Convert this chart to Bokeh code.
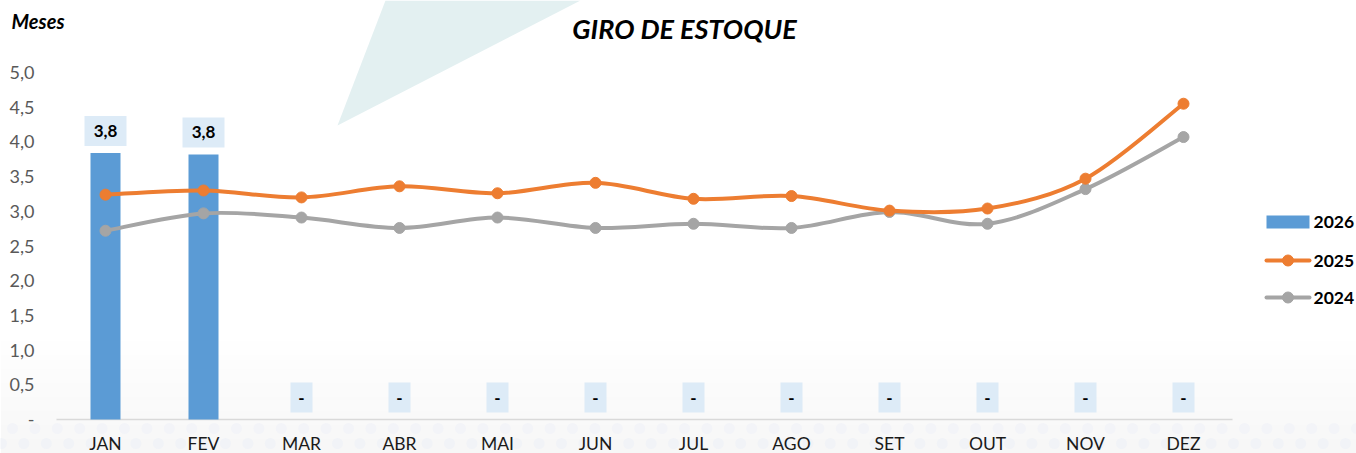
from bokeh.plotting import figure
from bokeh.models import Range1d, ColumnDataSource
from bokeh.core.properties import value
from bokeh.embed import file_html
from bokeh.resources import INLINE

# ---------------- data ----------------
months = ["JAN", "FEV", "MAR", "ABR", "MAI", "JUN", "JUL", "AGO", "SET", "OUT", "NOV", "DEZ"]
s2026 = [3.84, 3.82, None, None, None, None, None, None, None, None, None, None]
s2025 = [3.24, 3.30, 3.20, 3.36, 3.26, 3.41, 3.18, 3.22, 3.01, 3.04, 3.47, 4.55]
s2024 = [2.72, 2.97, 2.91, 2.76, 2.91, 2.76, 2.82, 2.76, 2.99, 2.82, 3.32, 4.07]
y_ticks = [0.0, 0.5, 1.0, 1.5, 2.0, 2.5, 3.0, 3.5, 4.0, 4.5, 5.0]
y_tick_labels = ["-", "0,5", "1,0", "1,5", "2,0", "2,5", "3,0", "3,5", "4,0", "4,5", "5,0"]
series_names = ["2026", "2025", "2024"]
title_text = "GIRO DE ESTOQUE"
unit_text = "Meses"

# ---------------- styling / layout ----------------
FONT = "Lato"
BLUE, ORANGE, GRAY = "#5B9BD5", "#ED7D31", "#A5A5A5"
BOX = "#DDEBF7"

W, H = 1356, 453
PLOT_L, PLOT_R, PLOT_T, PLOT_B = 56, 1232, 72, 419   # plot area in pixels
ymax = 5.0
n = len(months)
ppx = (PLOT_R - PLOT_L) / n            # pixels per category
ppy = (PLOT_B - PLOT_T) / ymax         # pixels per unit


def X(px):  # pixel -> data x
    return (px - PLOT_L) / ppx


def Y(py):  # pixel -> data y
    return (PLOT_B - py) / ppy


p = figure(width=W, height=H, output_backend="svg", toolbar_location=None,
           x_range=Range1d(X(0), X(W)), y_range=Range1d(Y(H), Y(0)),
           x_axis_location=None, y_axis_location=None, min_border=0)
p.outline_line_color = None
p.grid.visible = False
p.background_fill_color = "white"
p.border_fill_color = "white"

# decorative background: faint triangle and dotted band
p.patch(x=[X(337), X(385), X(580)], y=[Y(125), Y(0), Y(0)], fill_color="#E3F0F1",
        line_color=None, level="underlay")
for k in range(8):
    p.quad(left=X(0), right=X(W), bottom=Y(H), top=Y(340 + 14 * k), fill_color="#F3F5F9",
           fill_alpha=0.12, line_color=None, level="underlay")
dx1 = [X(12 + 22.4 * k) for k in range(61)]
dx2 = [X(1 + 22.4 * k) for k in range(61)]
p.scatter(x=dx1, y=[Y(428)] * len(dx1), size=11, fill_color="#F3F4F8", line_color=None, level="underlay")
p.scatter(x=dx2, y=[Y(443)] * len(dx2), size=11, fill_color="#F1F3F7", line_color=None, level="underlay")

xc = [i + 0.5 for i in range(n)]

# axis line and tick labels
p.segment(x0=[0], y0=[0], x1=[n], y1=[0], line_color="#D9D9D9", line_width=1.5)
p.text(x=[X(34)] * len(y_ticks), y=y_ticks, text=y_tick_labels, text_align="right",
       text_baseline="middle", text_font=value(FONT), text_font_size="18px", text_color="#595959")
p.text(x=xc, y=[Y(443)] * n, text=months, text_align="center", text_baseline="middle",
       text_font=value(FONT), text_font_size="17.5px", text_color="#1a1a1a")

# bars (2026)
bar_vals = [v if v is not None else 0 for v in s2026]
p.vbar(x=xc, top=bar_vals, width=30 / ppx, fill_color=BLUE, line_color=None)

# data labels for 2026
off = 22 / ppy
lab_txt = [("%.1f" % v).replace(".", ",") if v is not None else "-" for v in s2026]
lsrc = ColumnDataSource(dict(x=xc, y=[v + off for v in bar_vals], t=lab_txt,
                             w=[42 if v is not None else 22 for v in s2026]))
p.rect(x="x", y="y", width="w", height=30, width_units="screen", height_units="screen",
       source=lsrc, fill_color=BOX, line_color=None)
p.text(x="x", y="y", text="t", source=lsrc, text_align="center", text_baseline="middle",
       text_font=value(FONT), text_font_style="bold", text_font_size="17px", text_color="black")


def smooth_segments(xs, ys, t=1 / 6):
    m = len(xs)
    P = list(zip(xs, ys))
    seg = dict(x0=[], y0=[], x1=[], y1=[], cx0=[], cy0=[], cx1=[], cy1=[])
    for i in range(m - 1):
        p0 = P[i - 1] if i > 0 else P[i]
        p1, p2 = P[i], P[i + 1]
        p3 = P[i + 2] if i + 2 < m else P[i + 1]
        seg["x0"].append(p1[0]); seg["y0"].append(p1[1])
        seg["x1"].append(p2[0]); seg["y1"].append(p2[1])
        seg["cx0"].append(p1[0] + (p2[0] - p0[0]) * t)
        seg["cy0"].append(p1[1] + (p2[1] - p0[1]) * t)
        seg["cx1"].append(p2[0] - (p3[0] - p1[0]) * t)
        seg["cy1"].append(p2[1] - (p3[1] - p1[1]) * t)
    return ColumnDataSource(seg)


for vals, col in [(s2024, GRAY), (s2025, ORANGE)]:
    p.bezier(x0="x0", y0="y0", x1="x1", y1="y1", cx0="cx0", cy0="cy0", cx1="cx1", cy1="cy1",
             source=smooth_segments(xc, vals), line_color=col, line_width=4, line_cap="round")
    p.scatter(x=xc, y=vals, size=11, fill_color=col, line_color=col)

# legend (drawn manually in the right margin)
leg_y = [Y(221.5), Y(260), Y(297)]
p.rect(x=[X(1287.5)], y=[leg_y[0]], width=[43], height=[13], width_units="screen",
       height_units="screen", fill_color=BLUE, line_color=None)
for yy, col in [(leg_y[1], ORANGE), (leg_y[2], GRAY)]:
    p.segment(x0=[X(1266)], y0=[yy], x1=[X(1309)], y1=[yy], line_color=col, line_width=4,
              line_cap="round")
    p.scatter(x=[X(1287.5)], y=[yy], size=11, fill_color=col, line_color=col)
p.text(x=[X(1313)] * 3, y=leg_y, text=series_names, text_align="left", text_baseline="middle",
       text_font=value(FONT), text_font_style="bold", text_font_size="17.5px", text_color="black")

# title and unit label
p.text(x=[X(684)], y=[Y(28)], text=[title_text], text_align="center", text_baseline="middle",
       text_font=value(FONT), text_font_style="bold italic", text_font_size="27px", text_color="black")
p.text(x=[X(11)], y=[Y(20)], text=[unit_text], text_align="left", text_baseline="middle",
       text_font=value(FONT), text_font_style="bold italic", text_font_size="20px", text_color="black")

open("out.html", "w").write(file_html(p, INLINE))
